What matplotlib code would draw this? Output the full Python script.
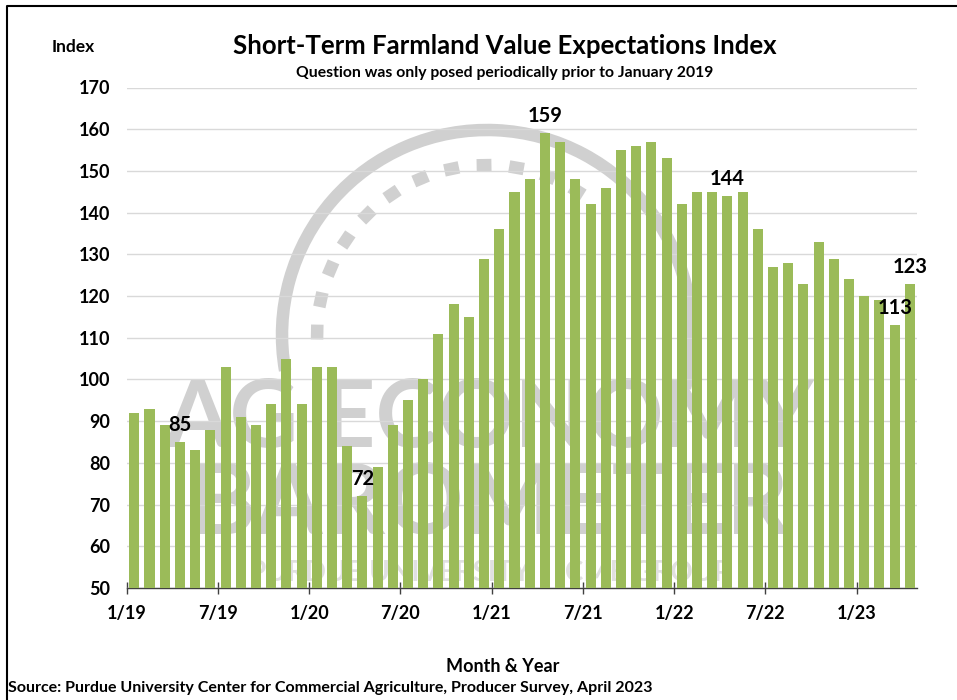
import matplotlib
matplotlib.use("Agg")
import numpy as np
import matplotlib.pyplot as plt
from matplotlib.patches import Arc

plt.rcParams['font.family'] = ['Lato', 'DejaVu Sans']
plt.rcParams['font.weight'] = 'bold'

# monthly index, 1/19 .. 4/23
months = ['1/19', '2/19', '3/19', '4/19', '5/19', '6/19', '7/19', '8/19', '9/19', '10/19', '11/19', '12/19',
          '1/20', '2/20', '3/20', '4/20', '5/20', '6/20', '7/20', '8/20', '9/20', '10/20', '11/20', '12/20',
          '1/21', '2/21', '3/21', '4/21', '5/21', '6/21', '7/21', '8/21', '9/21', '10/21', '11/21', '12/21',
          '1/22', '2/22', '3/22', '4/22', '5/22', '6/22', '7/22', '8/22', '9/22', '10/22', '11/22', '12/22',
          '1/23', '2/23', '3/23', '4/23']
index_vals = [92, 93, 89, 85, 83, 88, 103, 91, 89, 94, 105, 94,
              103, 103, 84, 72, 79, 89, 95, 100, 111, 118, 115, 129,
              136, 145, 148, 159, 157, 148, 142, 146, 155, 156, 157, 153,
              142, 145, 145, 144, 145, 136, 127, 128, 123, 133, 129, 124,
              120, 119, 113, 123]
labeled = ['4/19', '4/20', '4/21', '4/22', '3/23', '4/23']
tick_months = ['1/19', '7/19', '1/20', '7/20', '1/21', '7/21', '1/22', '7/22', '1/23']

W, H = 957, 700
fig = plt.figure(figsize=(W / 100, H / 100), dpi=100)

# background layer in pixel units: frame + faded logo watermark
bg = fig.add_axes([0, 0, 1, 1], zorder=0)
bg.set_xlim(0, W)
bg.set_ylim(H, 0)
bg.axis('off')
bg.plot([7, 7, W], [H, 6, 6], color='black', lw=1.5)
wm = '#d0d0d0'
cx, cy = 487, 335
bg.add_patch(Arc((cx, cy), 410, 410, theta1=170, theta2=375, color=wm, lw=9))
# dotted inner ring
for a in np.arange(58, 190, 11):
    t = np.radians([a - 2.5, a + 2.5])
    bg.plot(cx + 170 * np.cos(t), cy - 170 * np.sin(t), color=wm, lw=9, solid_capstyle='butt')
bg.text(490, 420, 'AG ECONOMY', ha='center', va='center', fontsize=68, color=wm,
        fontweight='bold')
bg.text(490, 505, 'BAROMETER', ha='center', va='center', fontsize=70, color=wm,
        fontweight='bold')
bg.text(490, 572, 'PURDUE UNIVERSITY  |  CME GROUP', ha='center', va='center', fontsize=20,
        color='#e0e0e0', fontweight='bold')

ax = fig.add_axes([126.7 / W, 1 - 588 / H, (917.5 - 126.7) / W, (588 - 87.5) / H], zorder=1)
ax.set_facecolor('none')

x = list(range(len(months)))
ax.bar(x, index_vals, width=0.66, color='#9bbb59', zorder=3)

for m in labeled:
    i = months.index(m)
    ax.annotate(str(index_vals[i]), (i, index_vals[i]), xytext=(0, 5), textcoords='offset points',
                ha='center', va='bottom', fontsize=14.5, fontweight='bold', zorder=4)

ax.set_ylim(50, 170)
ax.set_yticks(range(50, 171, 10))
ax.set_xlim(-0.5, len(months) - 0.5)
ax.set_xticks([months.index(m) - 0.5 for m in tick_months])
ax.set_xticklabels(tick_months)
ax.tick_params(axis='y', length=0, pad=12, labelsize=13)
ax.tick_params(axis='x', direction='inout', length=8, width=1, color='#404040', pad=8, labelsize=13)
for lab in ax.get_xticklabels() + ax.get_yticklabels():
    lab.set_fontweight('bold')

ax.grid(axis='y', color='#d9d9d9', lw=1, zorder=0)
ax.set_axisbelow(True)
for s in ['top', 'right', 'left']:
    ax.spines[s].set_visible(False)
ax.spines['bottom'].set_color('#404040')
ax.spines['bottom'].set_linewidth(1)

fig.text(505 / W, 1 - 46 / H, 'Short-Term Farmland Value Expectations Index', ha='center', va='center',
         fontsize=18.5, fontweight='bold')
fig.text(505 / W, 1 - 73 / H, 'Question was only posed periodically prior to January 2019', ha='center',
         va='center', fontsize=11.3, fontweight='bold')
fig.text(52 / W, 1 - 47 / H, 'Index', ha='left', va='center', fontsize=12.5, fontweight='bold')
fig.text(503 / W, 1 - 667 / H, 'Month & Year', ha='center', va='center', fontsize=13, fontweight='bold')
fig.text(8 / W, 1 - 688 / H, 'Source: Purdue University Center for Commercial Agriculture, Producer Survey, April 2023',
         ha='left', va='center', fontsize=11.5, fontweight='bold')

fig.savefig('out.png', dpi=100, facecolor='white')
